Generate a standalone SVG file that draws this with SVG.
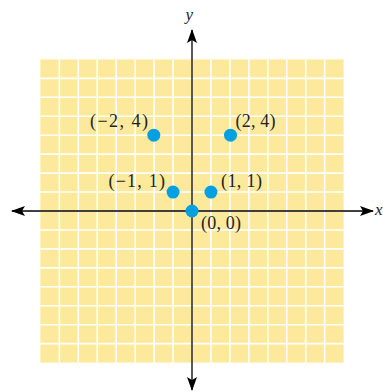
<svg xmlns="http://www.w3.org/2000/svg" width="383" height="391" viewBox="0 0 383 391">
<style>
.lbl{font-family:"Liberation Serif","Times New Roman",serif;font-size:18px;fill:#231f20}
.ax{font-family:"Liberation Serif","Times New Roman",serif;font-size:17px;font-style:italic;fill:#231f20}
.grid{stroke:#ffffff;stroke-width:1.6;fill:none}
.axis{stroke:#000;stroke-width:1.3;fill:none}
.pt{fill:#00a0e3}
</style>
<defs>
<marker id="ah" viewBox="0 0 14 10" refX="13" refY="5" markerWidth="14" markerHeight="10" markerUnits="userSpaceOnUse" orient="auto">
<path d="M0,0 L14,5 L0,10 L3,5 Z" fill="#000"/>
</marker>
</defs>
<g id="grid">
<rect x="40.4" y="59.4" width="303.2" height="303.2" fill="#fde99b"/>
<path class="grid" d="M59.35,59.4V362.6M78.3,59.4V362.6M97.25,59.4V362.6M116.2,59.4V362.6M135.15,59.4V362.6M154.1,59.4V362.6M173.05,59.4V362.6M192,59.4V362.6M210.95,59.4V362.6M229.9,59.4V362.6M248.85,59.4V362.6M267.8,59.4V362.6M286.75,59.4V362.6M305.7,59.4V362.6M324.65,59.4V362.6M40.4,78.35H343.6M40.4,97.3H343.6M40.4,116.25H343.6M40.4,135.2H343.6M40.4,154.15H343.6M40.4,173.1H343.6M40.4,192.05H343.6M40.4,211H343.6M40.4,229.95H343.6M40.4,248.9H343.6M40.4,267.85H343.6M40.4,286.8H343.6M40.4,305.75H343.6M40.4,324.7H343.6M40.4,343.65H343.6"/>
</g>
<g id="axes">
<line class="axis" x1="192" y1="211" x2="373" y2="211" marker-end="url(#ah)"/>
<line class="axis" x1="192" y1="211" x2="12" y2="211" marker-end="url(#ah)"/>
<line class="axis" x1="192" y1="211" x2="192" y2="30" marker-end="url(#ah)"/>
<line class="axis" x1="192" y1="211" x2="192" y2="390" marker-end="url(#ah)"/>
<text class="ax" x="185.5" y="20">y</text>
<text class="ax" x="375" y="215">x</text>
</g>
<g id="p00"><circle class="pt" cx="192" cy="211" r="6.5"/><text class="lbl" x="201" y="229" textLength="40" lengthAdjust="spacing">(0, 0)</text></g>
<g id="p11"><circle class="pt" cx="210.95" cy="192.05" r="6.5"/><text class="lbl" x="221" y="187" textLength="41" lengthAdjust="spacing">(1, 1)</text></g>
<g id="pm11"><circle class="pt" cx="173.05" cy="192.05" r="6.5"/><text class="lbl" x="108.5" y="187" textLength="56.5" lengthAdjust="spacing">(−1, 1)</text></g>
<g id="p24"><circle class="pt" cx="230.5" cy="135.2" r="6.5"/><text class="lbl" x="235.5" y="127" textLength="40" lengthAdjust="spacing">(2, 4)</text></g>
<g id="pm24"><circle class="pt" cx="153.8" cy="135.2" r="6.5"/><text class="lbl" x="90" y="127" textLength="58" lengthAdjust="spacing">(−2, 4)</text></g>
</svg>
